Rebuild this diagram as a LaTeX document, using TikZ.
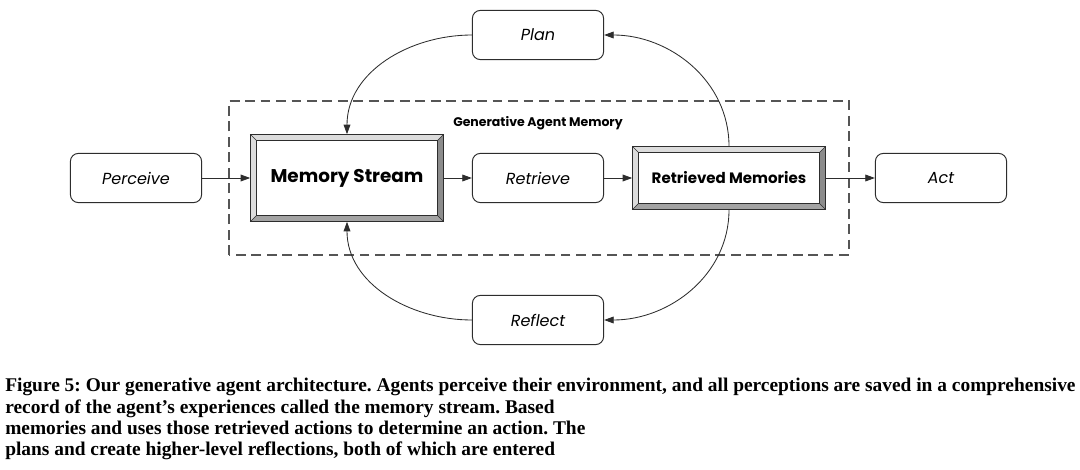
\documentclass[tikz,border=0pt]{standalone}
\usepackage{fontspec}
\usepackage{tikz}
\usetikzlibrary{arrows.meta, positioning, calc}
\newfontfamily\popfont{Poppins}
\newfontfamily\capfont{Liberation Serif}
\definecolor{cLine}{HTML}{2D2D2D}
\definecolor{cDash}{HTML}{555555}
\definecolor{cBvLight}{HTML}{DCDCDC}
\definecolor{cBvDark}{HTML}{8C8C8C}

% bevelled frame around a named node, #1 = bevel depth
\newcommand{\drawbevel}[2][6]{%
  \fill[cBvLight] (#2.north west) -- (#2.north east) -- ([shift={(-#1,-#1)}]#2.north east) -- ([shift={(#1,-#1)}]#2.north west) -- cycle;
  \fill[cBvLight] (#2.north west) -- (#2.south west) -- ([shift={(#1,#1)}]#2.south west) -- ([shift={(#1,-#1)}]#2.north west) -- cycle;
  \fill[cBvDark!80] (#2.south west) -- (#2.south east) -- ([shift={(-#1,#1)}]#2.south east) -- ([shift={(#1,#1)}]#2.south west) -- cycle;
  \fill[cBvDark] (#2.north east) -- (#2.south east) -- ([shift={(-#1,#1)}]#2.south east) -- ([shift={(-#1,-#1)}]#2.north east) -- cycle;
  \draw[cLine, line width=0.7pt] (#2.north west) rectangle (#2.south east);
  \draw[cLine, line width=0.5pt] ([shift={(#1,-#1)}]#2.north west) rectangle ([shift={(-#1,#1)}]#2.south east);
  \draw[cLine, line width=0.4pt] (#2.north west) -- ++(#1,-#1) (#2.north east) -- ++(-#1,-#1)
    (#2.south west) -- ++(#1,#1) (#2.south east) -- ++(-#1,#1);
}

\begin{document}
\begin{tikzpicture}[x=0.025cm, y=0.025cm,
  stepbox/.style={rectangle, rounded corners=0.2cm, draw=cLine, line width=0.7pt, fill=white,
    minimum width=3.28cm, minimum height=1.23cm, font=\popfont\itshape\fontsize{11.4}{14}\selectfont},
  memnode/.style={rectangle, fill=white, minimum width=4.825cm, align=center},
  flow/.style={-{Triangle[length=2.4mm, width=1.7mm]}, cLine, line width=0.6pt}]
  \useasboundingbox (0,0) rectangle (1080,469);

  % outer steps
  \node[stepbox] (perceive) at (136,291) {Perceive};
  \node[stepbox] (retrieve) at (538,291) {Retrieve};
  \node[stepbox] (act) at (941,291) {Act};
  \node[stepbox] (plan) at (538,434) {Plan};
  \node[stepbox] (reflect) at (538,149) {Reflect};

  % memory box
  \draw[cDash, line width=0.9pt, dash pattern=on 7pt off 4pt] (229,214) rectangle (849,368);
  \node[font=\popfont\bfseries\fontsize{8.9}{11}\selectfont] (memlabel) at (538,346) {Generative Agent Memory};

  \node[memnode, minimum height=2.175cm, font=\popfont\bfseries\fontsize{13.1}{16}\selectfont] (stream) at (347,291) {Memory Stream};
  \drawbevel{stream}
  \node[memnode, minimum height=1.575cm, font=\popfont\bfseries\fontsize{10.7}{13}\selectfont] (retmem) at (729,291) {Retrieved Memories};
  \drawbevel{retmem}

  % main flow
  \draw[flow] (perceive) -- (stream);
  \draw[flow] (stream) -- (retrieve);
  \draw[flow] (retrieve) -- (retmem);
  \draw[flow] (retmem) -- (act);

  % loops
  \draw[flow] (retmem.north) to[out=90, in=0] (plan.east);
  \draw[flow] (plan.west) to[out=180, in=90] (stream.north);
  \draw[flow] (retmem.south) to[out=-90, in=0] (reflect.east);
  \draw[flow] (reflect.west) to[out=180, in=-90] (stream.south);

  % caption
  \node[anchor=north west, align=left, inner sep=0pt,
        font=\capfont\bfseries\fontsize{13.8}{15.2}\selectfont\frenchspacing] (caption) at (5,91)
    {Figure 5: Our generative agent architecture. Agents perceive their environment, and all perceptions are saved in a comprehensive\\
     record of the agent’s experiences called the memory stream. Based\\
     memories and uses those retrieved actions to determine an action. The\\
     plans and create higher-level reflections, both of which are entered};
\end{tikzpicture}
\end{document}
